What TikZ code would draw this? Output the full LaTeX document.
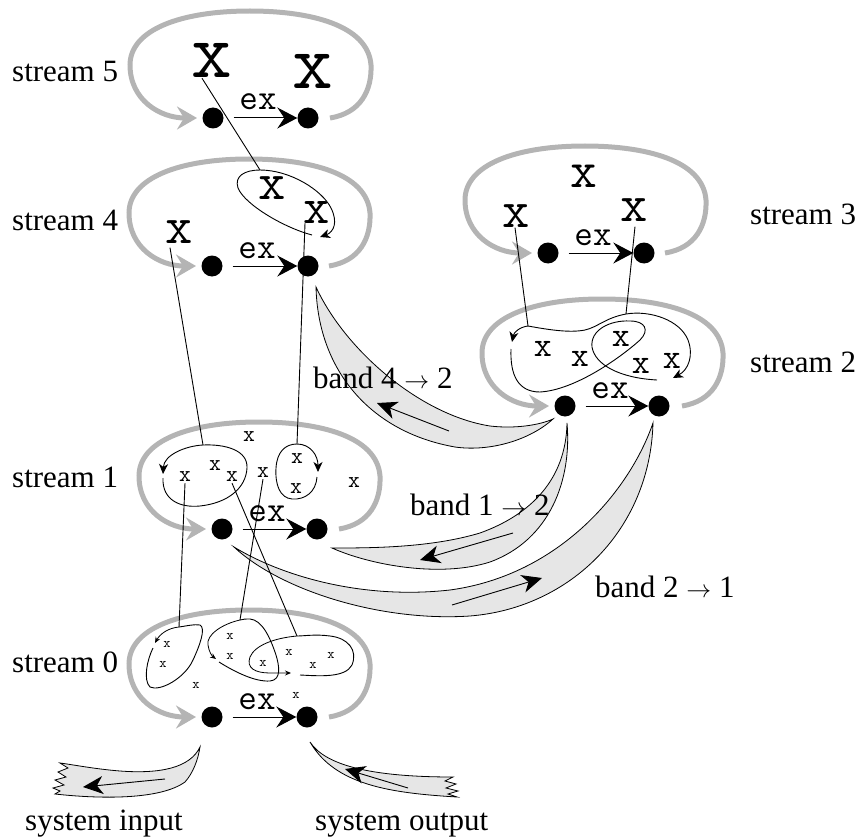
\documentclass[tikz,border=0pt]{standalone}
\usepackage{fontspec}
\setmainfont{Liberation Serif}
\usetikzlibrary{arrows.meta,calc}
\definecolor{loopgray}{RGB}{180,180,180}
\definecolor{bandfill}{RGB}{230,230,230}

\tikzset{
  dot/.style={circle, fill=black, draw=none, minimum size=21pt, inner sep=0pt},
  slabel/.style={font=\fontsize{31}{31}\selectfont, anchor=base west, inner sep=0pt},
  exlabel/.style={font=\ttfamily\fontsize{36}{36}\selectfont, anchor=base, inner sep=0pt},
  exarrow/.style={line width=1pt, -{Stealth[length=20pt,width=21pt,inset=7pt]}},
  cycleline/.style={line width=5pt, draw=loopgray, -{Stealth[length=20pt,width=23pt,inset=7pt,fill=loopgray]}},
  tok/.style={font=\ttfamily\fontsize{#1}{#1}\selectfont, inner sep=0pt},
  link/.style={line width=0.9pt},
  orbit/.style={line width=0.9pt},
  orbitarrow/.style={line width=0.9pt, -{Stealth[length=10pt,width=9pt,inset=3pt]}},
  tinyarrow/.style={line width=0.8pt, -{Stealth[length=6pt,width=5pt,inset=2pt]}},
  band/.style={fill=bandfill, draw=black, line width=0.8pt},
  bandarrow/.style={line width=0.9pt, -{Stealth[length=20pt,width=18pt,inset=6pt]}},
  pics/streamcycle/.style={code={
    \draw[cycleline] (117,0) .. controls (148,-5) and (159,-28) .. (158,-53)
      .. controls (155,-93) and (97,-107) .. (37,-107)
      .. controls (-33,-107) and (-83,-88) .. (-83,-53)
      .. controls (-83,-18) and (-53,0) .. (-16,0);
  }}
}

\begin{document}
\begin{tikzpicture}[x=1pt,y=-1pt]
\useasboundingbox (0,0) rectangle (860,840);

% the six streams: entry and exit points, exchange arrow and feedback cycle
\foreach \s/\lx/\ly/\rx in {5/213/118/308, 4/212/266/308, 3/548/253/644,
                            2/565/406/659, 1/222/529/317, 0/212/717/307} {
  \node[dot] (l\s) at (\lx,\ly) {};
  \node[dot] (r\s) at (\rx,\ly) {};
  \pic at (l\s) {streamcycle};
  \draw[exarrow] ([xshift=10pt]l\s.east) -- (r\s.west);
  \node[exlabel] (e\s) at ($(l\s)+(45,-8)$) {ex};
}

% bands between streams
\path[band] (316,287) .. controls (345,350) and (420,415) .. (490,426)
  .. controls (515,429) and (540,425) .. (553,419)
  .. controls (530,440) and (490,452) .. (455,447)
  .. controls (370,432) and (318,370) .. cycle;
\path[band] (567,423) .. controls (566,480) and (530,515) .. (480,533)
  .. controls (430,548) and (370,548) .. (332,548)
  .. controls (370,565) and (440,578) .. (490,562)
  .. controls (550,540) and (572,480) .. cycle;
\path[band] (653,423) .. controls (630,490) and (560,575) .. (450,590)
  .. controls (360,600) and (280,575) .. (234,547)
  .. controls (280,590) and (380,622) .. (470,616)
  .. controls (570,608) and (650,530) .. cycle;
% system input and output
\path[band] (200,747) .. controls (190,768) and (160,774) .. (120,771)
  .. controls (95,769) and (75,765) .. (60,763)
  -- (68,768) -- (58,772) -- (66,777) -- (55,780) -- (64,785) -- (53,788) -- (60,791) -- (55,794)
  .. controls (100,799) and (160,800) .. (185,782)
  .. controls (193,773) and (198,760) .. cycle;
\path[band] (310,742) .. controls (325,765) and (370,777) .. (453,777)
  -- (445,781) -- (456,784) -- (446,788) -- (458,791) -- (448,794) -- (457,797)
  .. controls (390,793) and (335,785) .. cycle;

% flow arrows inside the bands
\coordinate (a42s) at (449,431); \coordinate (a42e) at (377,403);
\coordinate (a12s) at (513,533); \coordinate (a12e) at (420,560);
\coordinate (a21s) at (452,605); \coordinate (a21e) at (542,578);
\coordinate (ains) at (165,779); \coordinate (aine) at (83,787);
\coordinate (aouts) at (408,788); \coordinate (aoute) at (345,769);
\draw[bandarrow] (a42s) -- (a42e);
\draw[bandarrow] (a12s) -- (a12e);
\draw[bandarrow] (a21s) -- (a21e);
\draw[bandarrow] (ains) -- (aine);
\draw[bandarrow] (aouts) -- (aoute);

% tokens
\node[tok=79] (x5a) at (212,60) {x};
\node[tok=79] (x5b) at (313,71) {x};
\node[tok=53] (x4a) at (179,232) {x};
\node[tok=53] (x4b) at (272,188) {x};
\node[tok=51] (x4c) at (317,213) {x};
\node[tok=52] (x3a) at (584,176) {x};
\node[tok=53] (x3b) at (516,216) {x};
\node[tok=53] (x3c) at (634,210) {x};
\node[tok=35] (x2a) at (543,349) {x};
\node[tok=35] (x2b) at (580,359) {x};
\node[tok=35] (x2c) at (621,339) {x};
\node[tok=35] (x2d) at (641,366) {x};
\node[tok=35] (x2e) at (672,361) {x};
\node[tok=23] (x1a) at (249,437) {x};
\node[tok=23] (x1b) at (185,477) {x};
\node[tok=23] (x1c) at (215,466) {x};
\node[tok=23] (x1d) at (232,477) {x};
\node[tok=23] (x1e) at (263,473) {x};
\node[tok=23] (x1f) at (297,459) {x};
\node[tok=23] (x1g) at (296,489) {x};
\node[tok=23] (x1h) at (354,483) {x};
\node[tok=14] (x0a) at (167,644) {x};
\node[tok=14] (x0b) at (163,664) {x};
\node[tok=14] (x0c) at (196,685) {x};
\node[tok=14] (x0d) at (230,636) {x};
\node[tok=14] (x0e) at (230,656) {x};
\node[tok=14] (x0f) at (263,663) {x};
\node[tok=14] (x0g) at (289,652) {x};
\node[tok=14] (x0h) at (313,665) {x};
\node[tok=14] (x0i) at (331,655) {x};
\node[tok=14] (x0j) at (296,695) {x};

% points where links reach the groups below
\coordinate (c4a) at (260,170);
\coordinate (c1a) at (203,445);
\coordinate (c1b) at (297,444);
\coordinate (c2a) at (528,326);
\coordinate (c2b) at (626,314);
\coordinate (c0a) at (179,627);
\coordinate (c0b) at (240,620);
\coordinate (c0c) at (297,636);

% links from tokens to groups
\draw[link] ($(x5a.south)+(-10,1)$) -- (c4a);
\draw[link] ($(x4a.south)+(-9,4)$) -- (c1a);
\draw[link] ($(x4c.south)+(-12,-1)$) -- (c1b);
\draw[link] ($(x3b.south)+(-1,0)$) -- (c2a);
\draw[link] ($(x3c.south)+(1,5)$) -- (c2b);
\draw[link] ($(x1b.south)+(0,1)$) -- (c0a);
\draw[link] ($(x1e.south)+(0,1)$) -- (c0b);
\draw[link] ($(x1d.south)+(0,1)$) -- (c0c);

% group in stream 4
\draw[orbitarrow] (c4a) .. controls (290,170) and (322,190) .. (331,208)
  .. controls (338,222) and (334,232) .. (320,237);
\draw[orbit] (312,235) .. controls (285,228) and (245,205) .. (238,188)
  .. controls (234,176) and (245,170) .. (c4a);

% groups in stream 1
\draw[orbitarrow] (c1a) .. controls (185,446) and (164,455) .. (163,474);
\draw[orbit] (163,478) .. controls (162,500) and (180,508) .. (200,506)
  .. controls (228,503) and (246,488) .. (247,468)
  .. controls (248,450) and (225,444) .. (c1a);
\draw[orbitarrow] (c1b) .. controls (310,444) and (318,455) .. (318,472);
\draw[orbit] (317,477) .. controls (316,492) and (305,500) .. (292,499)
  .. controls (280,498) and (275,485) .. (276,468)
  .. controls (277,452) and (285,444) .. (c1b);

% groups in stream 2
\draw[orbitarrow] (c2a) .. controls (520,327) and (514,332) .. (512,342);
\draw[orbit] (511,349) .. controls (510,375) and (518,392) .. (540,392)
  .. controls (575,390) and (620,358) .. (640,340)
  .. controls (650,330) and (645,321) .. (630,321)
  .. controls (610,320) and (590,330) .. (592,347)
  .. controls (595,365) and (620,378) .. (657,380);
\draw[orbitarrow] (c2a) .. controls (550,330) and (570,333) .. (585,330)
  .. controls (598,327) and (605,318) .. (c2b)
  .. controls (650,310) and (680,320) .. (688,340)
  .. controls (694,356) and (688,370) .. (673,378);

% groups in stream 0
\draw[tinyarrow] (c0a) .. controls (168,628) and (160,634) .. (155,643);
\draw[orbit] (153,648) .. controls (147,660) and (143,680) .. (150,687)
  .. controls (160,692) and (185,678) .. (193,660)
  .. controls (200,645) and (206,628) .. (200,625)
  .. controls (195,624) and (186,626) .. (c0a);
\draw[tinyarrow] (c0b) .. controls (222,624) and (206,635) .. (208,645)
  .. controls (209,652) and (212,656) .. (216,659);
\draw[orbit] (219,662) .. controls (235,672) and (255,682) .. (270,681)
  .. controls (282,680) and (279,665) .. (276,655)
  .. controls (270,637) and (262,620) .. (250,619)
  .. controls (246,619) and (243,619) .. (c0b);
\draw[tinyarrow] (c0c) .. controls (275,638) and (255,645) .. (250,657)
  .. controls (246,668) and (255,673) .. (270,673) -- (291,673);
\draw[orbit] (300,675) .. controls (320,676) and (345,678) .. (352,665)
  .. controls (358,650) and (348,638) .. (330,636)
  .. controls (315,634) and (305,636) .. (c0c);

% labels
\node[slabel] (s5) at (12,82) {stream 5};
\node[slabel] (s4) at (12,230) {stream 4};
\node[slabel] (s3) at (750,224) {stream 3};
\node[slabel] (s2) at (750,372) {stream 2};
\node[slabel] (s1) at (12,487) {stream 1};
\node[slabel] (s0) at (12,672) {stream 0};
\node[slabel] (b42) at (313,388) {band 4 $\rightarrow$ 2};
\node[slabel] (b12) at (410,515) {band 1 $\rightarrow$ 2};
\node[slabel] (b21) at (595,597) {band 2 $\rightarrow$ 1};
\node[slabel] (sin) at (25,830) {system input};
\node[slabel] (sout) at (315,830) {system output};
\end{tikzpicture}
\end{document}
